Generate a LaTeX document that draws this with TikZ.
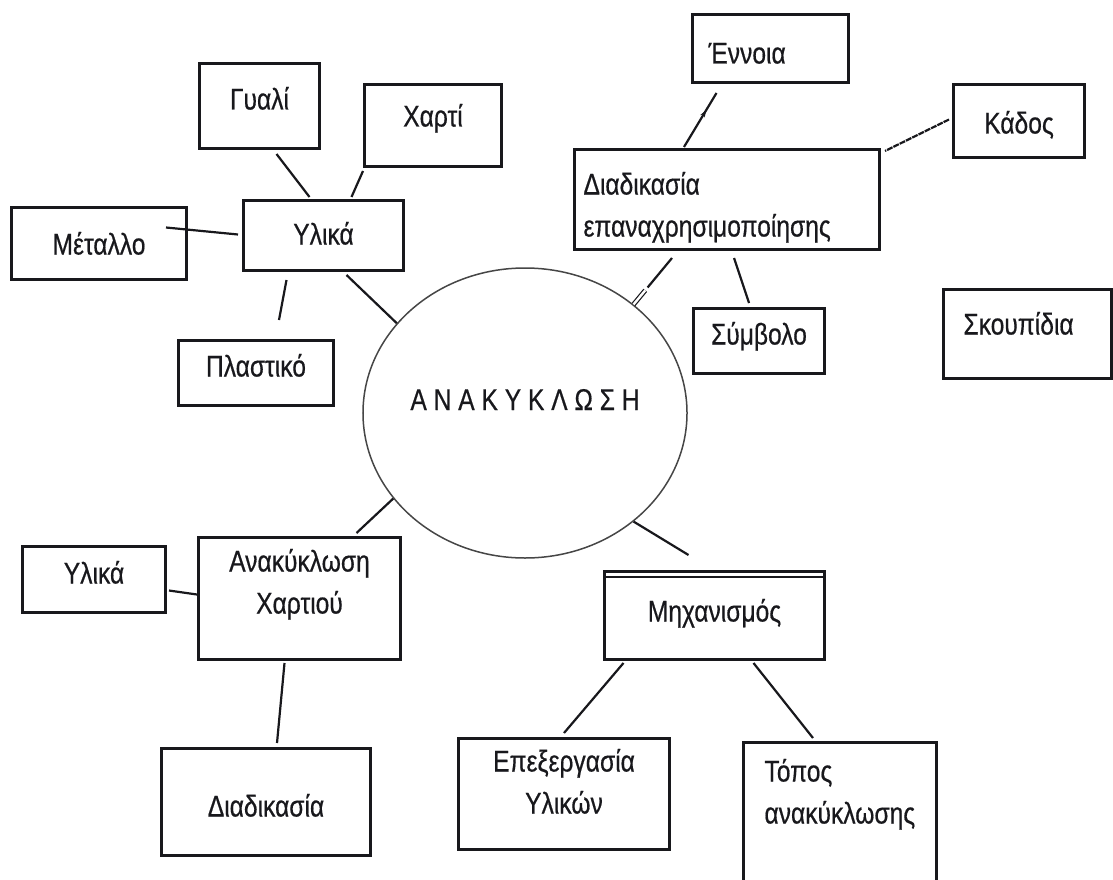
\documentclass[tikz,border=0pt]{standalone}
\usepackage{fontspec}
\setmainfont[FakeStretch=0.82, FakeBold=0.5]{Liberation Sans}
\usetikzlibrary{shapes.geometric,arrows.meta,decorations.markings}

\definecolor{inkcol}{RGB}{24,24,28}
\definecolor{ringcol}{RGB}{70,70,70}

\tikzstyle{box} = [draw=inkcol, line width=3pt, inner sep=0pt, anchor=north west, text=inkcol, font=\fontsize{30}{42}\selectfont]
\tikzstyle{ring} = [ellipse, draw=ringcol, line width=1.5pt, minimum width=310pt, minimum height=290pt, inner sep=0pt, text=inkcol, font=\fontsize{30}{42}\selectfont]
\tikzstyle{link} = [draw=inkcol, line width=2.2pt]
\tikzstyle{mid arrow} = [postaction={decorate}, decoration={markings, mark=at position 0.68 with {\arrow{Stealth[length=7pt,width=5pt]}}}]

\begin{document}
\begin{tikzpicture}[x=1pt, y=-1pt]
	\path[use as bounding box, fill=white] (0,0) rectangle (1113,880);

	% centre
	\node[ring, text height=20pt, text depth=26pt] (anakyklosi) at (525,413) {Α Ν Α Κ Υ Κ Λ Ω Σ Η};

	% Υλικά
	\node[box, minimum width=120pt, text height=46pt, text depth=39pt] (gyali) at (198,62) {Γυαλί};
	\node[box, minimum width=137pt, text height=42pt, text depth=40pt] (charti) at (363,83) {Χαρτί};
	\node[box, minimum width=175pt, text height=47pt, text depth=25pt] (metallo) at (10,206) {Μέταλλο};
	\node[box, minimum width=160pt, text height=44pt, text depth=26pt] (ylika) at (242,199) {Υλικά};
	\node[box, minimum width=155pt, text height=36pt, text depth=29pt] (plastiko) at (177,339) {Πλαστικό};

	% επαναχρησιμοποίηση
	\node[box, text width=124pt, inner xsep=16pt, align=left, text height=49pt, text depth=19pt] (ennoia) at (691,13) {Έννοια};
	\node[box, minimum width=131pt, text height=49pt, text depth=24pt] (kados) at (952,83) {Κάδος};
	\node[box, text width=287pt, inner xsep=9pt, align=left, text height=45pt, text depth=55pt] (diad) at (573,148) {Διαδικασία\\επαναχρησιμοποίησης};
	\node[box, minimum width=131pt, text height=36pt, text depth=29pt] (symvolo) at (692,307) {Σύμβολο};
	\node[box, text width=128pt, inner xsep=20pt, align=left, text height=45pt, text depth=44pt] (skoupidia) at (942,288) {Σκουπίδια};

	% χαρτί
	\node[box, minimum width=143pt, text height=37pt, text depth=29pt] (ylika2) at (21,545) {Υλικά};
	\node[box, text width=202pt, align=center, text height=34pt, text depth=88pt] (ax) at (197,536) {Ανακύκλωση\\Χαρτιού};
	\node[box, minimum width=209pt, text height=68pt, text depth=39pt] (diadikasia) at (160,747) {Διαδικασία};

	% μηχανισμός
	\node[box, minimum width=220pt, text height=50pt, text depth=38pt] (mech) at (603,570) {Μηχανισμός};
	\draw[draw=inkcol, line width=1.2pt] ([yshift=-7pt]mech.north west) -- ([yshift=-7pt]mech.north east);
	\node[box, text width=211pt, align=center, text height=33pt, text depth=78pt] (epex) at (457,737) {Επεξεργασία\\Υλικών};
	\node[box, text width=151pt, inner xsep=21pt, align=left, text height=39pt, text depth=120pt] (topos) at (742,741) {Τόπος\\ανακύκλωσης};

	\draw[link] ([xshift=17pt,yshift=-4pt]gyali.south) -- ([xshift=-14pt,yshift=2pt]ylika.north);
	\draw[link] ([yshift=-3pt]charti.south west) -- ([xshift=28pt,yshift=2pt]ylika.north);
	\draw[link] ([xshift=-22pt,yshift=16pt]metallo.east) -- ([xshift=-4pt,yshift=1pt]ylika.west);
	\draw[link] ([xshift=-37pt,yshift=-8pt]ylika.south) -- ([xshift=23pt,yshift=19pt]plastiko.north);
	\draw[link] ([xshift=23pt,yshift=-3pt]ylika.south) -- (anakyklosi.145);

	\draw[link, shorten >=22pt] ([xshift=-55pt,yshift=-7pt]diad.south) -- (anakyklosi.45);
	\draw[link, line width=1.2pt, double, double distance=2.4pt, shorten >=42pt] (anakyklosi.45) -- ([xshift=-55pt,yshift=-7pt]diad.south);
	\draw[link] ([xshift=7pt,yshift=-7pt]diad.south) -- ([xshift=-10pt,yshift=4pt]symvolo.north);
	\draw[link, mid arrow] ([xshift=-43pt,yshift=1pt]diad.north) -- ([xshift=-54pt,yshift=-9pt]ennoia.south);
	\draw[link, dash pattern=on 6pt off 1pt] ([xshift=-3pt,yshift=1.5pt]kados.west) -- ([xshift=4pt,yshift=-3pt]diad.north east);

	\draw[link] (anakyklosi.213) -- ([xshift=57pt,yshift=3pt]ax.north);
	\draw[link] ([xshift=2pt,yshift=-11pt]ylika2.east) -- ([yshift=4pt]ax.west);
	\draw[link] ([xshift=-15pt,yshift=-2pt]ax.south) -- ([xshift=11pt,yshift=4pt]diadikasia.north);

	\draw[link] (anakyklosi.-45) -- ([xshift=-26pt,yshift=15pt]mech.north);
	\draw[link] ([xshift=-91pt,yshift=-2pt]mech.south) -- ([yshift=4pt]epex.north);
	\draw[link] ([xshift=39pt,yshift=-2pt]mech.south) -- ([xshift=-27pt,yshift=3pt]topos.north);
\end{tikzpicture}
\end{document}
